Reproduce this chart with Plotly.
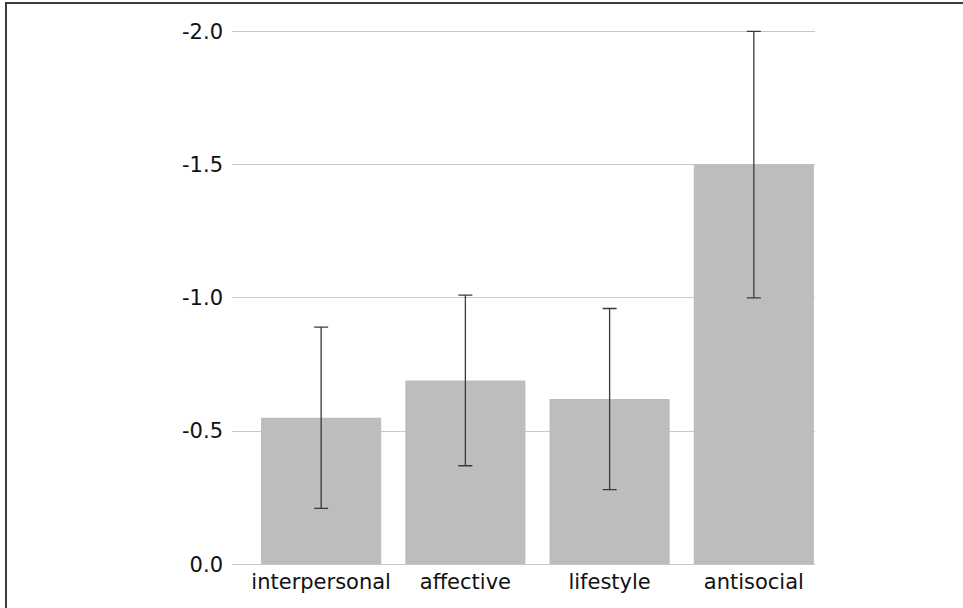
import plotly.graph_objects as go

# Facet means and their error half-widths
categories = ["interpersonal", "affective", "lifestyle", "antisocial"]
means = [-0.55, -0.69, -0.62, -1.50]
errors = [0.34, 0.32, 0.34, 0.50]

# Y-axis ticks (plain hyphen minus)
tick_values = [0.0, -0.5, -1.0, -1.5, -2.0]
tick_labels = ["0.0", "-0.5", "-1.0", "-1.5", "-2.0"]

W, H = 963, 608
ML, MR, MT, MB = 232, 148, 26, 41

fig = go.Figure(
    go.Bar(
        x=categories,
        y=means,
        marker=dict(color="#bdbdbc", line=dict(width=0)),
        error_y=dict(
            type="data",
            array=errors,
            visible=True,
            color="#3a3a3a",
            thickness=1.3,
            width=7,
        ),
        width=0.833,
    )
)

# Frame drawn in pixel terms converted to paper coordinates
pw, ph = W - ML - MR, H - MT - MB


def px_x(x):
    return (x - ML) / pw


def px_y(y):
    return (H - MB - y) / ph


fig.add_shape(
    type="path",
    xref="paper",
    yref="paper",
    path=f"M {px_x(6)} {px_y(H + 10)} L {px_x(6)} {px_y(3)} L {px_x(W + 10)} {px_y(3)}",
    line=dict(color="#3c3c3c", width=2),
)

fig.update_layout(
    width=W,
    height=H,
    margin=dict(l=ML, r=MR, t=MT, b=MB),
    paper_bgcolor="white",
    plot_bgcolor="white",
    showlegend=False,
    font=dict(family="DejaVu Sans", size=21, color="#111111"),
    xaxis=dict(
        range=[-0.618, 3.424],
        showgrid=False,
        zeroline=False,
        showline=False,
        ticks="",
        tickfont=dict(size=21),
    ),
    yaxis=dict(
        range=[0.01, -2.02],
        tickvals=tick_values,
        ticktext=tick_labels,
        showgrid=True,
        gridcolor="#c8c8c8",
        gridwidth=1,
        zeroline=False,
        showline=False,
        ticks="",
        ticklabelstandoff=8,
        tickfont=dict(size=21),
    ),
)

fig.write_html("out.html")
